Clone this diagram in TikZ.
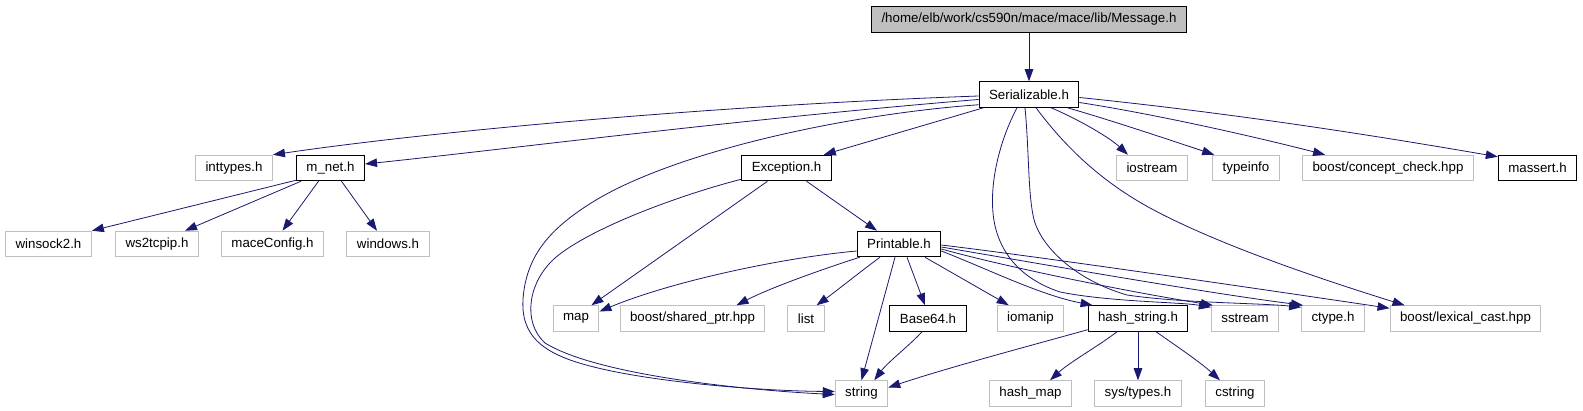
\documentclass[tikz,border=0pt]{standalone}
\usepackage{fontspec}
\setmainfont{Liberation Sans}
\usetikzlibrary{arrows.meta,calc}
\definecolor{edgec}{RGB}{25,25,112}
\definecolor{grayc}{RGB}{191,191,191}
\begin{document}
\begin{tikzpicture}[x=1pt,y=-1pt,
  box/.style={draw=black,line width=1pt,minimum height=25.5pt,inner xsep=10pt,inner ysep=0pt,font=\fontsize{13.3}{15}\selectfont,anchor=center},
  ext/.style={box,draw=grayc},
  root/.style={box,fill=grayc},
  edge/.style={draw=edgec,line width=0.8pt,-{Triangle[length=12pt,width=8.5pt]}}
]
\useasboundingbox (0,0) rectangle (1583,411);
\fill[white] (0,0) rectangle (1583,411);

\node[root] (msg) at (1029,19.5) {/home/elb/work/cs590n/mace/mace/lib/Message.h};
\node[box] (ser) at (1029,94.5) {Serializable.h};
\node[ext] (inttypes) at (234,168) {inttypes.h};
\node[box] (mnet) at (330.5,168) {m\_net.h};
\node[box] (exc) at (786.5,168) {Exception.h};
\node[ext] (iostream) at (1152,168) {iostream};
\node[ext] (typeinfo) at (1246,168) {typeinfo};
\node[ext] (concept) at (1388,168) {boost/concept\_check.hpp};
\node[box] (massert) at (1537.5,168) {massert.h};
\node[ext] (winsock) at (48.5,244) {winsock2.h};
\node[ext] (ws) at (157,244) {ws2tcpip.h};
\node[ext] (mace) at (272.5,244) {maceConfig.h};
\node[ext] (windows) at (388,244) {windows.h};
\node[box] (print) at (899,244) {Printable.h};
\node[ext] (map) at (576,318.5) {map};
\node[ext] (sptr) at (692.5,318.5) {boost/shared\_ptr.hpp};
\node[ext] (list) at (806,318.5) {list};
\node[box] (base) at (928,318.5) {Base64.h};
\node[ext] (iomanip) at (1030.5,318.5) {iomanip};
\node[box] (hstr) at (1138,318.5) {hash\_string.h};
\node[ext] (sstream) at (1245,318.5) {sstream};
\node[ext] (ctype) at (1333,318.5) {ctype.h};
\node[ext] (lexcast) at (1465.5,318.5) {boost/lexical\_cast.hpp};
\node[ext] (string) at (861.5,393.5) {string};
\node[ext] (hmap) at (1030.5,393.5) {hash\_map};
\node[ext] (systypes) at (1138,393.5) {sys/types.h};
\node[ext] (cstring) at (1235,393.5) {cstring};

% Message
\draw[edge] (msg.south) -- (ser.north);
% Serializable
\draw[edge] ($(ser.west)+(0,1.5)$) .. controls (700,106) and (420,133) .. (inttypes.north east);
\draw[edge] ($(ser.west)+(0,5)$) .. controls (750,118) and (500,150) .. ($(mnet.east)+(0,-4)$);
\draw[edge] ($(ser.south west)+(0,-3)$) .. controls (850,114) and (680,150) .. (596,200) .. controls (555,225) and (530,250) .. (524,290) .. controls (518,330) and (535,352) .. (590,366) .. controls (650,382) and (760,391) .. ($(string.west)+(0,-2)$);
\draw[edge] ($(ser.south west)+(5,0)$) -- ($(exc.north east)+(-8,0)$);
\draw[edge] ($(ser.south)+(-12,0)$) .. controls (1000,140) and (990,180) .. (993,213) .. controls (996,246) and (1015,277) .. (1060,292) .. controls (1110,302) and (1180,302) .. ($(sstream.north west)+(0,2)$);
\draw[edge] ($(ser.south)+(-4,0)$) .. controls (1029,150) and (1028,190) .. (1033,215) .. controls (1038,245) and (1075,280) .. (1127,295) .. controls (1180,303) and (1260,303) .. ($(ctype.north west)+(0,2)$);
\draw[edge] ($(ser.south)+(7,0)$) .. controls (1060,140) and (1095,178) .. (1150,208) .. controls (1220,246) and (1330,282) .. ($(lexcast.north west)+(15,0)$);
\draw[edge] ($(ser.south)+(22,0)$) .. controls (1080,120) and (1110,138) .. ($(iostream.north west)+(12,0)$);
\draw[edge] ($(ser.south east)+(-12,0)$) .. controls (1110,120) and (1170,140) .. ($(typeinfo.north west)+(2,0)$);
\draw[edge] ($(ser.east)+(0,8)$) .. controls (1160,115) and (1260,138) .. ($(concept.north west)+(23,0)$);
\draw[edge] ($(ser.east)+(0,3)$) .. controls (1250,115) and (1400,140) .. ($(massert.north west)+(0,2)$);
% Exception
\draw[edge] ($(exc.south west)+(0,-2)$) .. controls (680,195) and (590,228) .. (555,258) .. controls (528,282) and (522,322) .. (545,343) .. controls (600,377) and (760,391) .. ($(string.west)+(0,1)$);
\draw[edge] ($(exc.south)+(-19,0)$) -- ($(map.north east)+(-8,0)$);
\draw[edge] ($(exc.south)+(20,0)$) -- ($(print.north)+(-22,0)$);
% Printable
\draw[edge] ($(print.west)+(0,7)$) .. controls (780,258) and (670,282) .. ($(map.east)+(0,-7)$);
\draw[edge] ($(print.south west)+(3,0)$) .. controls (820,270) and (770,288) .. ($(sptr.north)+(44,0)$);
\draw[edge] ($(print.south)+(-19,0)$) .. controls (860,272) and (835,292) .. ($(list.north east)+(-8,0)$);
\draw[edge] ($(print.south)+(-4,0)$) -- (string.north);
\draw[edge] ($(print.south)+(8,0)$) -- ($(base.north)+(-3,0)$);
\draw[edge] ($(print.south)+(26,0)$) -- ($(iomanip.north west)+(12,0)$);
\draw[edge] ($(print.east)+(0,7)$) .. controls (990,270) and (1040,295) .. ($(hstr.north west)+(5,0)$);
\draw[edge] ($(print.east)+(0,5)$) .. controls (1010,268) and (1130,292) .. ($(sstream.north west)+(2,0)$);
\draw[edge] ($(print.east)+(0,3)$) .. controls (1030,262) and (1200,292) .. ($(ctype.north west)+(2,0)$);
\draw[edge] ($(print.east)+(0,1)$) .. controls (1050,258) and (1280,292) .. ($(lexcast.north west)+(0,3)$);
% hash_string
\draw[edge] ($(hstr.south west)+(0,-2)$) .. controls (1040,343) and (950,367) .. ($(string.east)+(0,-6)$);
\draw[edge] ($(hstr.south)+(-21,0)$) .. controls (1100,345) and (1070,362) .. ($(hmap.north east)+(-22,0)$);
\draw[edge] (hstr.south) -- (systypes.north);
\draw[edge] ($(hstr.south)+(18,0)$) .. controls (1175,345) and (1200,362) .. ($(cstring.north)+(-15,0)$);
% Base64
\draw[edge] ($(base.south)+(-6,0)$) .. controls (910,345) and (888,362) .. ($(string.north east)+(-14,0)$);
% m_net
\draw[edge] ($(mnet.south west)+(0,-1)$) -- (winsock.north east);
\draw[edge] ($(mnet.south west)+(5,0)$) -- ($(ws.north)+(28,0)$);
\draw[edge] ($(mnet.south)+(-12,0)$) -- ($(mace.north)+(10,0)$);
\draw[edge] ($(mnet.south)+(11,0)$) -- ($(windows.north)+(-11,0)$);
\end{tikzpicture}
\end{document}
